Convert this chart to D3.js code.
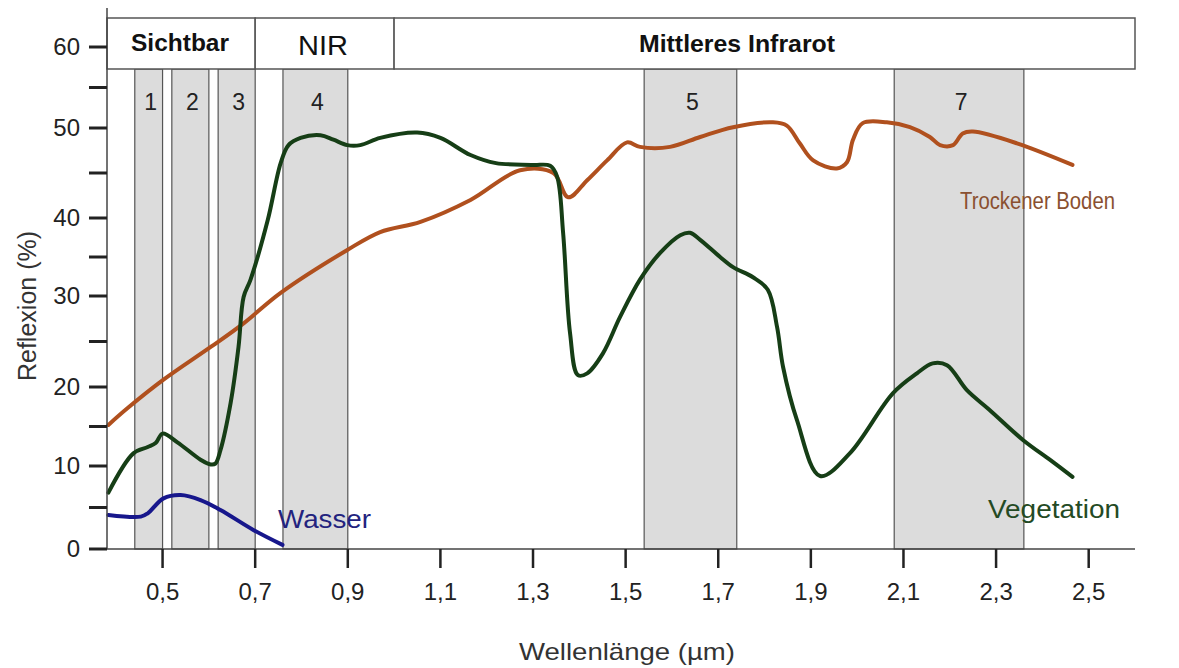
<!DOCTYPE html>
<html lang="de">
<head>
<meta charset="utf-8">
<script src="https://d3js.org/d3.v7.min.js"></script>
<style>
  body { margin: 0; background: #fff; }
  text { font-family: "Liberation Sans", Arial, sans-serif; }
</style>
</head>
<body>
<script>
// --- data (wavelength in µm, reflexion in %) ---
const vegWl  = [0.383,0.437,0.468,0.485,0.50,0.532,0.582,0.604,0.614,0.625,0.647,0.664,0.675,0.69,0.727,0.755,0.772,0.798,0.841,0.869,0.899,0.927,0.97,1.05,1.10,1.165,1.22,1.30,1.337,1.352,1.365,1.38,1.397,1.417,1.451,1.488,1.531,1.574,1.618,1.639,1.661,1.704,1.732,1.775,1.807,1.827,1.84,1.87,1.92,1.984,2.077,2.129,2.163,2.194,2.237,2.286,2.358,2.416,2.465];
const vegVal = [6.8,11.6,12.4,12.9,14.1,13.0,10.8,10.2,10.3,12.0,18.0,24.4,29.9,32.1,39.7,46.1,48.1,48.9,49.2,48.7,48.1,48.1,48.9,49.5,48.9,47.0,46.1,45.9,45.8,44.6,38.1,25.9,21.3,21.5,23.7,27.7,32.1,35.5,37.8,38.1,37.2,35.0,33.7,32.4,30.8,26.6,22.2,15.8,8.8,11.6,19.2,21.5,22.6,22.4,19.6,17.1,13.3,10.8,8.7];

const soilWl  = [0.383,0.424,0.502,0.604,0.675,0.755,0.899,0.97,1.057,1.165,1.272,1.344,1.376,1.417,1.46,1.503,1.531,1.596,1.661,1.732,1.818,1.848,1.876,1.905,1.956,1.978,1.991,2.012,2.064,2.114,2.157,2.179,2.207,2.228,2.25,2.345,2.465];
const soilVal = [15.2,17.3,20.8,24.4,27.0,30.4,35.9,38.2,39.5,42.0,45.3,45.0,42.3,44.2,46.4,48.4,47.9,47.9,49.0,50.1,50.7,50.3,48.3,46.4,45.5,46.2,48.7,50.6,50.7,50.1,49.0,48.1,48.1,49.4,49.6,48.3,45.9];

const waterWl  = [0.383,0.453,0.468,0.502,0.539,0.582,0.625,0.696,0.759];
const waterVal = [4.1,3.9,4.3,6.1,6.5,5.9,4.7,2.3,0.5];

// Landsat TM bands
const bandNames = ["1","2","3","4","5","7"];
const bandStart = [0.44,0.52,0.62,0.76,1.54,2.08];
const bandEnd   = [0.50,0.60,0.70,0.90,1.74,2.36];

// spectral regions in the header
const regionNames = ["Sichtbar","NIR","Mittleres Infrarot"];
const regionStart = [0.38,0.70,1.00];
const regionEnd   = [0.70,1.00,2.60];

const xTicks = [0.5,0.7,0.9,1.1,1.3,1.5,1.7,1.9,2.1,2.3,2.5];
const yTicks = d3.range(0, 61, 5);
const yLabels = [0,10,20,30,40,50,60];

const width = 1179, height = 668;

const svg = d3.select("body").append("svg")
  .attr("width", width)
  .attr("height", height);

const x = d3.scaleLinear().domain([0.38, 2.6]).range([107, 1135]);
// the drawing's y axis is not quite even; tick positions taken from it
const y = d3.scaleLinear()
  .domain([0, 10, 20, 30, 40, 50, 60])
  .range([549, 466, 387, 296, 218, 128, 47]);

const headTop = 18, headBottom = 69;
const gridCol = "#555";

// bands
svg.append("g").selectAll("rect")
  .data(bandNames)
  .join("rect")
  .attr("x", (d, i) => x(bandStart[i]))
  .attr("width", (d, i) => x(bandEnd[i]) - x(bandStart[i]))
  .attr("y", headBottom)
  .attr("height", y(0) - headBottom)
  .attr("fill", "#dcdcdc")
  .attr("stroke", gridCol)
  .attr("stroke-width", 1.2);

svg.append("g").selectAll("text")
  .data(bandNames)
  .join("text")
  .attr("x", (d, i) => x((bandStart[i] + bandEnd[i]) / 2) + 2)
  .attr("y", 110)
  .attr("text-anchor", "middle")
  .attr("font-size", 23)
  .attr("fill", "#222")
  .text(d => d);

// header boxes
const head = svg.append("g");
head.selectAll("rect")
  .data(regionNames)
  .join("rect")
  .attr("x", (d, i) => x(regionStart[i]))
  .attr("width", (d, i) => x(regionEnd[i]) - x(regionStart[i]))
  .attr("y", headTop)
  .attr("height", headBottom - headTop)
  .attr("fill", "#fff")
  .attr("stroke", gridCol)
  .attr("stroke-width", 1.5);

head.append("text")
  .attr("x", 180).attr("y", 51)
  .attr("text-anchor", "middle")
  .attr("font-size", 23).attr("font-weight", "bold")
  .attr("textLength", 98).attr("lengthAdjust", "spacingAndGlyphs")
  .attr("fill", "#111")
  .text(regionNames[0]);
head.append("text")
  .attr("x", 323).attr("y", 55)
  .attr("text-anchor", "middle")
  .attr("font-size", 28)
  .attr("textLength", 50).attr("lengthAdjust", "spacingAndGlyphs")
  .attr("fill", "#111")
  .text(regionNames[1]);
head.append("text")
  .attr("x", 737).attr("y", 52)
  .attr("text-anchor", "middle")
  .attr("font-size", 24).attr("font-weight", "bold")
  .attr("textLength", 196).attr("lengthAdjust", "spacingAndGlyphs")
  .attr("fill", "#111")
  .text(regionNames[2]);

// curves
const line = d3.line()
  .x(d => x(d[0]))
  .y(d => y(d[1]))
  .curve(d3.curveCatmullRom.alpha(0.5));

const series = [
  {wl: soilWl, val: soilVal, col: "#b0501e"},
  {wl: vegWl, val: vegVal, col: "#163e16"},
  {wl: waterWl, val: waterVal, col: "#17178c"}
];
series.forEach(s => {
  svg.append("path")
    .datum(d3.zip(s.wl, s.val))
    .attr("d", line)
    .attr("fill", "none")
    .attr("stroke", s.col)
    .attr("stroke-width", 4)
    .attr("stroke-linejoin", "round")
    .attr("stroke-linecap", "round");
});

// axes
const axisCol = "#444";
svg.append("line")
  .attr("x1", 107).attr("x2", 107)
  .attr("y1", 8).attr("y2", y(0))
  .attr("stroke", axisCol).attr("stroke-width", 1.5);
svg.append("line")
  .attr("x1", 89).attr("x2", 1135)
  .attr("y1", y(0)).attr("y2", y(0))
  .attr("stroke", axisCol).attr("stroke-width", 1.5);

svg.append("g").selectAll("line")
  .data(yTicks)
  .join("line")
  .attr("x1", 89).attr("x2", 107)
  .attr("y1", d => y(d)).attr("y2", d => y(d))
  .attr("stroke", "#222").attr("stroke-width", 3);

svg.append("g").selectAll("text")
  .data(yLabels)
  .join("text")
  .attr("x", 80)
  .attr("y", d => y(d) + 8)
  .attr("text-anchor", "end")
  .attr("font-size", 24)
  .attr("fill", "#222")
  .text(d => d);

const deFmt = d3.formatLocale({decimal: ",", thousands: ".", grouping: [3], currency: ["", "€"]}).format(".1f");

svg.append("g").selectAll("line")
  .data(xTicks)
  .join("line")
  .attr("x1", d => x(d)).attr("x2", d => x(d))
  .attr("y1", y(0)).attr("y2", y(0) + 19)
  .attr("stroke", "#222").attr("stroke-width", 2.5);

svg.append("g").selectAll("text")
  .data(xTicks)
  .join("text")
  .attr("x", d => x(d))
  .attr("y", 600)
  .attr("text-anchor", "middle")
  .attr("font-size", 24)
  .attr("fill", "#222")
  .text(d => deFmt(d));

// axis titles
svg.append("text")
  .attr("transform", "translate(36,306) rotate(-90)")
  .attr("text-anchor", "middle")
  .attr("font-size", 25)
  .attr("fill", "#333")
  .text("Reflexion (%)");

svg.append("text")
  .attr("x", 627).attr("y", 660)
  .attr("text-anchor", "middle")
  .attr("font-size", 24)
  .attr("textLength", 216).attr("lengthAdjust", "spacingAndGlyphs")
  .attr("fill", "#333")
  .text("Wellenlänge (µm)");

// series labels
svg.append("text")
  .attr("x", 278).attr("y", 528)
  .attr("font-size", 26)
  .attr("textLength", 93).attr("lengthAdjust", "spacingAndGlyphs")
  .attr("fill", "#23237e")
  .text("Wasser");
svg.append("text")
  .attr("x", 960).attr("y", 209)
  .attr("font-size", 23)
  .attr("textLength", 155).attr("lengthAdjust", "spacingAndGlyphs")
  .attr("fill", "#8a5030")
  .text("Trockener Boden");
svg.append("text")
  .attr("x", 988).attr("y", 518)
  .attr("font-size", 26)
  .attr("textLength", 132).attr("lengthAdjust", "spacingAndGlyphs")
  .attr("fill", "#244a24")
  .text("Vegetation");
</script>
</body>
</html>
